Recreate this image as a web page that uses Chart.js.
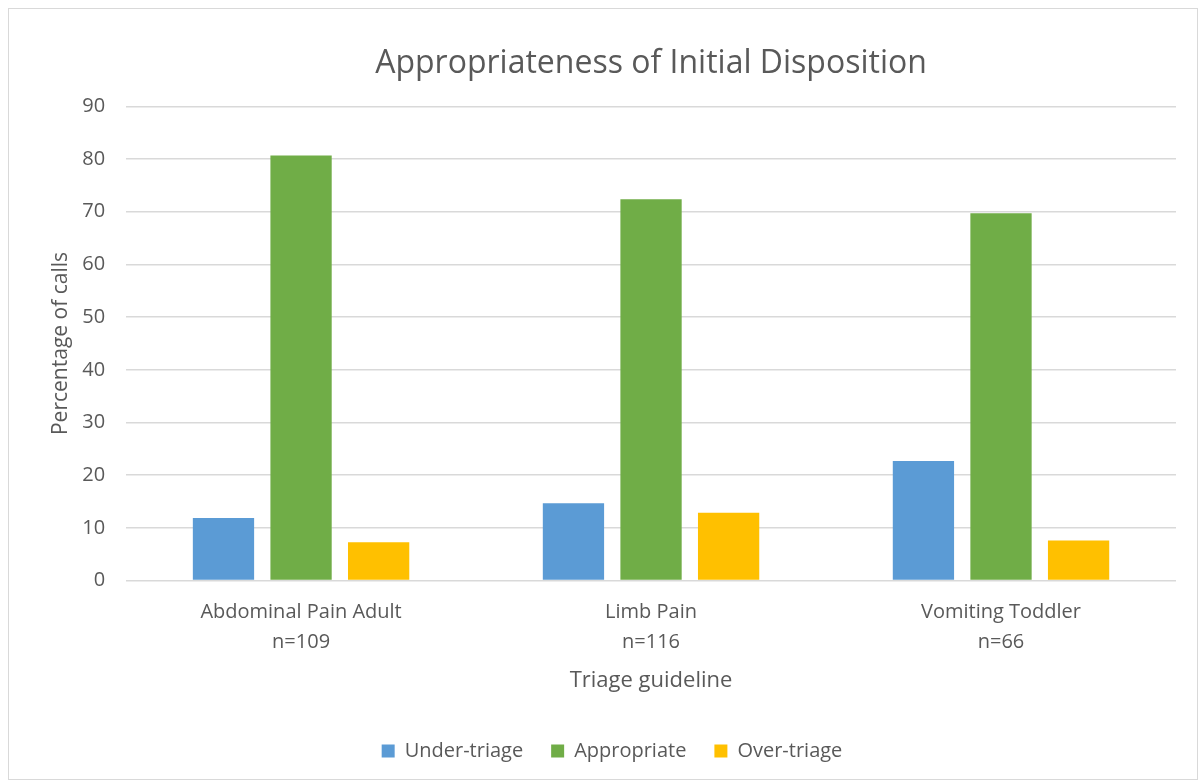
<!DOCTYPE html>
<html>
<head>
<meta charset="utf-8">
<script src="https://cdn.jsdelivr.net/npm/chart.js@4.4.0/dist/chart.umd.min.js"></script>
<style>
  html, body { margin: 0; padding: 0; background: #fff; }
  #wrap { position: absolute; left: 8px; top: 8px; width: 1190px; height: 772px; border: 1px solid #d9d9d9; box-sizing: border-box; }
  canvas { display: block; }
</style>
</head>
<body>
<div id="wrap"><canvas id="mychart" width="1188" height="770"></canvas></div>
<script>
// categories (multi-line labels)
const guidelines = [["Abdominal Pain Adult", "n=109"], ["Limb Pain", "n=116"], ["Vomiting Toddler", "n=66"]];
// percent of calls per group
const underTriage = [11.9, 14.7, 22.7];
const appropriate = [80.7, 72.4, 69.7];
const overTriage = [7.3, 12.9, 7.6];

const FONT = "'Open Sans', 'Liberation Sans', sans-serif";
const GREY = '#595959';

let canvas = document.getElementById('mychart');
const config = {
  type: 'bar',
  data: {
    labels: guidelines,
    datasets: [
      { label: 'Under-triage', data: underTriage, backgroundColor: '#5B9BD5' },
      { label: 'Appropriate', data: appropriate, backgroundColor: '#70AD47' },
      { label: 'Over-triage', data: overTriage, backgroundColor: '#FFC000' }
    ]
  },
  options: {
    responsive: false,
    animation: false,
    categoryPercentage: 0.665,
    barPercentage: 0.79,
    layout: { padding: { left: 39, right: 21, top: 26, bottom: 8 } },
    plugins: {
      title: {
        display: true,
        fullSize: false,
        text: 'Appropriateness of Initial Disposition',
        color: GREY,
        font: { family: FONT, size: 32, weight: 'normal' },
        padding: { top: 10, bottom: 23 }
      },
      legend: {
        position: 'bottom',
        labels: {
          color: GREY,
          font: { family: FONT, size: 20 },
          boxWidth: 13, boxHeight: 13,
          padding: 28
        }
      },
      tooltip: { enabled: false }
    },
    scales: {
      x: {
        grid: { display: false, drawTicks: false },
        border: { display: false },
        ticks: { color: GREY, font: { family: FONT, size: 20, lineHeight: 1.5 }, padding: 17 },
        title: { display: true, text: 'Triage guideline', color: GREY, font: { family: FONT, size: 22 }, padding: { top: -7, bottom: 19 } }
      },
      y: {
        min: 0, max: 90,
        ticks: { stepSize: 10, color: GREY, font: { family: FONT, size: 20 }, padding: 21 },
        grid: { color: '#d9d9d9', lineWidth: 1.5, drawTicks: false },
        border: { display: false },
        title: { display: true, text: 'Percentage of calls', color: GREY, font: { family: FONT, size: 21 }, padding: { top: 0, bottom: -12 } }
      }
    }
  }
};
new Chart(canvas, config);
</script>
</body>
</html>
